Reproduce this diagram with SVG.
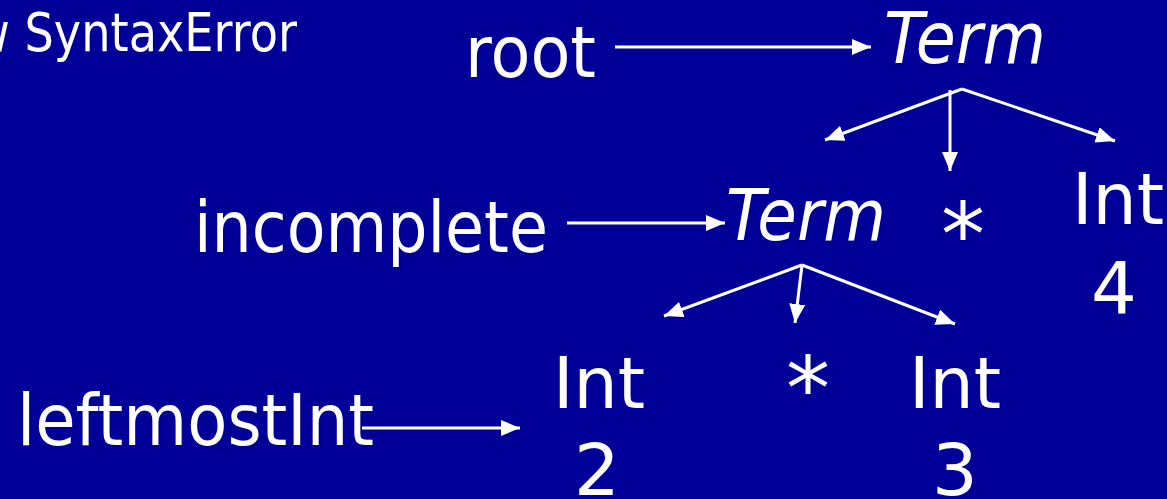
<svg xmlns="http://www.w3.org/2000/svg" width="1167" height="499" viewBox="0 0 1167 499">
  <style>
    .t { font-family: "DejaVu Sans", Verdana, sans-serif; font-size: 72px; fill: #ffffff; }
    .it { font-style: italic; }
    .small { font-size: 54px; }
    .ast { font-size: 88px; }
    .edge { stroke: #ffffff; stroke-width: 3; fill: none; marker-end: url(#arrow); }
  </style>
  <defs>
    <marker id="arrow" markerUnits="userSpaceOnUse" markerWidth="20" markerHeight="16" refX="19" refY="8" orient="auto">
      <path d="M0,0 L19,8 L0,16 Z" fill="#ffffff"/>
    </marker>
  </defs>
  <rect width="1167" height="499" fill="#000099"/>

  <g id="header">
    <text class="t small" x="-28" y="51" textLength="325" lengthAdjust="spacingAndGlyphs">w SyntaxError</text>
  </g>

  <g id="root-label">
    <text class="t" x="465" y="77" textLength="131" lengthAdjust="spacingAndGlyphs">root</text>
  </g>
  <g id="term-root">
    <text class="t it" x="884" y="63" textLength="162" lengthAdjust="spacingAndGlyphs">Term</text>
  </g>
  <g id="incomplete-label">
    <text class="t" x="194" y="252" textLength="354" lengthAdjust="spacingAndGlyphs">incomplete</text>
  </g>
  <g id="term-inner">
    <text class="t it" x="726" y="240" textLength="160" lengthAdjust="spacingAndGlyphs">Term</text>
  </g>
  <g id="star-top">
    <text class="t ast" x="963" y="265" text-anchor="middle">*</text>
  </g>
  <g id="int-4">
    <text class="t" x="1072" y="224" textLength="92" lengthAdjust="spacingAndGlyphs">Int</text>
    <text class="t" x="1114" y="313" text-anchor="middle">4</text>
  </g>
  <g id="leftmost-label">
    <text class="t" x="17" y="445" textLength="357" lengthAdjust="spacingAndGlyphs">leftmostInt</text>
  </g>
  <g id="int-2">
    <text class="t" x="553" y="408" textLength="92" lengthAdjust="spacingAndGlyphs">Int</text>
    <text class="t" x="597" y="495" text-anchor="middle">2</text>
  </g>
  <g id="star-bottom">
    <text class="t ast" x="808" y="419" text-anchor="middle">*</text>
  </g>
  <g id="int-3">
    <text class="t" x="909" y="408" textLength="92" lengthAdjust="spacingAndGlyphs">Int</text>
    <text class="t" x="955" y="495" text-anchor="middle">3</text>
  </g>

  <g id="connectors">
    <path class="edge" d="M615,47 L871,47"/>
    <path class="edge" d="M567,223 L725,223"/>
    <path class="edge" d="M362,428 L520,428"/>
    <path class="edge" d="M962,89 L825,140"/>
    <path class="edge" d="M950,90 L950,171"/>
    <path class="edge" d="M962,89 L1115,141"/>
    <path class="edge" d="M802,265 L664,316"/>
    <path class="edge" d="M802,265 L795,323"/>
    <path class="edge" d="M802,265 L955,324"/>
  </g>
</svg>
